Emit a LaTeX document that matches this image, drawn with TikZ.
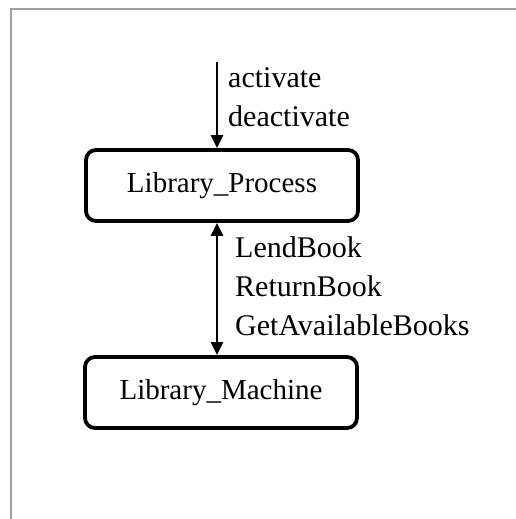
\documentclass[tikz,border=0pt]{standalone}
\usepackage{fontspec}
\setmainfont{Liberation Serif}
\usetikzlibrary{positioning,arrows.meta}

\begin{document}
\begin{tikzpicture}[x=1pt,y=-1pt,
  procbox/.style={draw=black, line width=3.8pt, rounded corners=10pt,
    minimum width=272pt, minimum height=71pt, inner sep=0pt,
    font=\fontsize{29}{39}\selectfont},
  msglabel/.style={align=left, anchor=base west, inner sep=0pt,
    font=\fontsize{30}{39}\selectfont},
  msgline/.style={line width=2.4pt, -{Triangle[length=13pt,width=12pt]}}]
\useasboundingbox (0,0) rectangle (516,519);
\draw[gray!75, line width=2pt] (11,519) -- (11,9) -- (516,9);

\node[procbox] (proc) at (222,185.5) {Library\_Process};
\node[procbox] (mach) at (221,392.5) {Library\_Machine};
\coordinate (src) at (217,62);

\draw[msgline] (src) -- (src |- proc.north);
\draw[msgline, {Triangle[length=13pt,width=12pt]}-{Triangle[length=13pt,width=12pt]}]
  (src |- proc.south) -- (src |- mach.north);

% the last line sits on the given point
\node[msglabel] (ctl) at (228,126) {activate\\deactivate};
\node[msglabel] (ops) at (235,335) {LendBook\\ReturnBook\\GetAvailableBooks};
\end{tikzpicture}
\end{document}
